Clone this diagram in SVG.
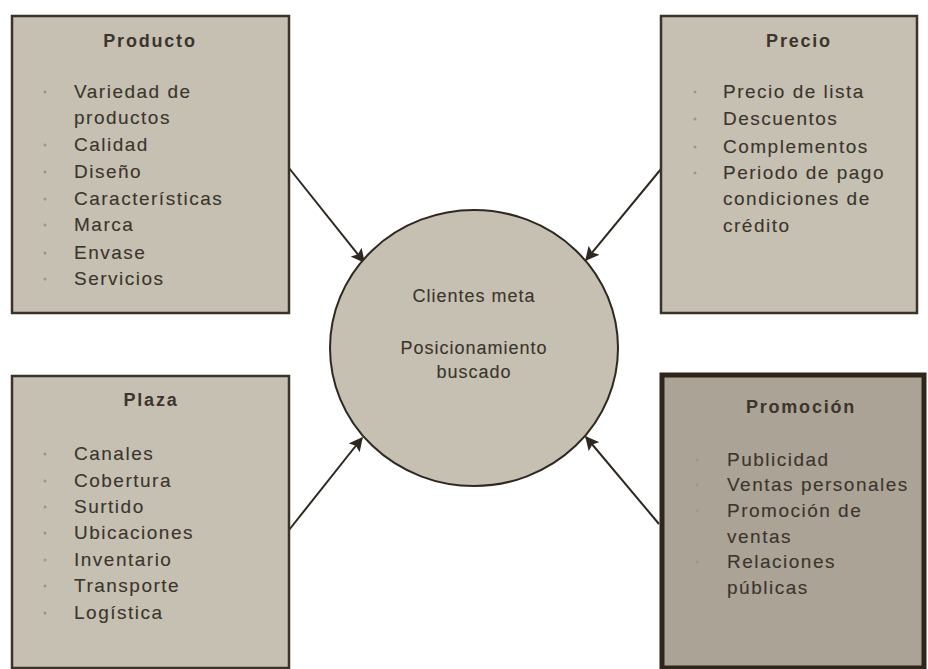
<svg xmlns="http://www.w3.org/2000/svg" width="928" height="669" viewBox="0 0 928 669">
<defs>
<marker id="ah" viewBox="0 0 10 10" refX="9" refY="5" markerWidth="7" markerHeight="7" orient="auto" markerUnits="strokeWidth">
<path d="M0,0 L10,5 L0,10 L2,5 z" fill="#2e2820"/>
</marker>
<style>
.box{fill:#c6c0b2;stroke:#3a3328;stroke-width:2.5}
.boxd{fill:#aba395;stroke:#2e2618;stroke-width:5}
.ttl{font-family:"Liberation Sans",Arial,sans-serif;font-weight:bold;font-size:18px;fill:#3b352d;text-anchor:middle;letter-spacing:1.8px}
.it{font-family:"Liberation Sans",Arial,sans-serif;font-size:19px;fill:#3b352d;stroke:#3b352d;stroke-width:0.12;letter-spacing:1.5px}
.ct{font-family:"Liberation Sans",Arial,sans-serif;font-size:18px;fill:#3b352d;stroke:#3b352d;stroke-width:0.12;text-anchor:middle;letter-spacing:1px}
.bul{fill:#9c968a}
.con{stroke:#2e2820;stroke-width:2;fill:none;marker-end:url(#ah)}
</style>
</defs>
<rect width="928" height="669" fill="#ffffff"/>
<g id="connectors">
<line class="con" x1="289" y1="168" x2="364" y2="262"/>
<line class="con" x1="661" y1="169" x2="586" y2="260"/>
<line class="con" x1="289" y1="530" x2="362" y2="438"/>
<line class="con" x1="659" y1="524" x2="586" y2="437"/>
</g>
<g id="centro">
<ellipse cx="474" cy="348" rx="144" ry="138" fill="#c6c0b2" stroke="#2e2820" stroke-width="2"/>
<text class="ct" x="474" y="302">Clientes meta</text>
<text class="ct" x="474" y="354">Posicionamiento</text>
<text class="ct" x="474" y="378">buscado</text>
</g>
<g id="producto">
<rect class="box" x="12" y="16" width="277" height="297"/>
<text class="ttl" x="150" y="47">Producto</text>
<circle class="bul" cx="45" cy="92" r="1.5"/>
<circle class="bul" cx="45" cy="145" r="1.5"/>
<circle class="bul" cx="45" cy="172" r="1.5"/>
<circle class="bul" cx="45" cy="199" r="1.5"/>
<circle class="bul" cx="45" cy="225" r="1.5"/>
<circle class="bul" cx="45" cy="253" r="1.5"/>
<circle class="bul" cx="45" cy="279" r="1.5"/>
<text class="it" x="74" y="98">Variedad de</text>
<text class="it" x="74" y="124">productos</text>
<text class="it" x="74" y="151">Calidad</text>
<text class="it" x="74" y="178">Diseño</text>
<text class="it" x="74" y="205">Características</text>
<text class="it" x="74" y="231">Marca</text>
<text class="it" x="74" y="259">Envase</text>
<text class="it" x="74" y="285">Servicios</text>
</g>
<g id="precio">
<rect class="box" x="661" y="16" width="256" height="297"/>
<text class="ttl" x="799" y="47">Precio</text>
<circle class="bul" cx="695" cy="92" r="1.5"/>
<circle class="bul" cx="695" cy="119" r="1.5"/>
<circle class="bul" cx="695" cy="147" r="1.5"/>
<circle class="bul" cx="695" cy="173" r="1.5"/>
<text class="it" x="723" y="98">Precio de lista</text>
<text class="it" x="723" y="125">Descuentos</text>
<text class="it" x="723" y="153">Complementos</text>
<text class="it" x="723" y="179">Periodo de pago</text>
<text class="it" x="723" y="205">condiciones de</text>
<text class="it" x="723" y="232">crédito</text>
</g>
<g id="plaza">
<rect class="box" x="12" y="376" width="277" height="292"/>
<text class="ttl" x="151" y="406">Plaza</text>
<circle class="bul" cx="45" cy="454" r="1.5"/>
<circle class="bul" cx="45" cy="481" r="1.5"/>
<circle class="bul" cx="45" cy="507" r="1.5"/>
<circle class="bul" cx="45" cy="533" r="1.5"/>
<circle class="bul" cx="45" cy="560" r="1.5"/>
<circle class="bul" cx="45" cy="586" r="1.5"/>
<circle class="bul" cx="45" cy="613" r="1.5"/>
<text class="it" x="74" y="460">Canales</text>
<text class="it" x="74" y="487">Cobertura</text>
<text class="it" x="74" y="513">Surtido</text>
<text class="it" x="74" y="539">Ubicaciones</text>
<text class="it" x="74" y="566">Inventario</text>
<text class="it" x="74" y="592">Transporte</text>
<text class="it" x="74" y="619">Logística</text>
</g>
<g id="promocion">
<rect class="boxd" x="662" y="375" width="262" height="293"/>
<text class="ttl" x="801" y="413">Promoción</text>
<circle class="bul" cx="697" cy="460" r="1.5"/>
<circle class="bul" cx="697" cy="485" r="1.5"/>
<circle class="bul" cx="697" cy="511" r="1.5"/>
<circle class="bul" cx="697" cy="562" r="1.5"/>
<text class="it" x="727" y="466">Publicidad</text>
<text class="it" x="727" y="491">Ventas personales</text>
<text class="it" x="727" y="517">Promoción de</text>
<text class="it" x="727" y="543">ventas</text>
<text class="it" x="727" y="568">Relaciones</text>
<text class="it" x="727" y="594">públicas</text>
</g>
</svg>
